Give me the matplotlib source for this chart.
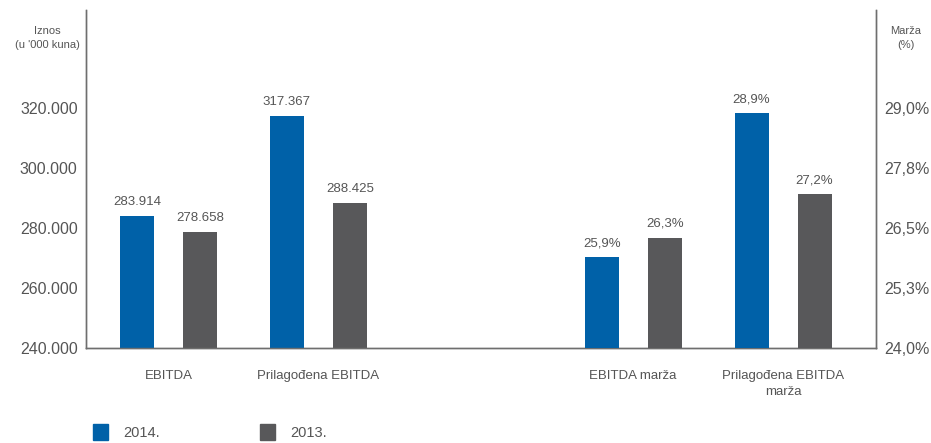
import matplotlib
matplotlib.use("Agg")
import matplotlib.pyplot as plt
from matplotlib.patches import Rectangle
import numpy as np

plt.rcParams['font.family'] = ['Liberation Sans', 'DejaVu Sans']

categories_left = ["EBITDA", "Prilagođena EBITDA"]
values_2014_left = [283914, 317367]
values_2013_left = [278658, 288425]

categories_right = ["EBITDA marža", "Prilagođena EBITDA\nmarža"]
values_2014_right = [25.9, 28.9]
values_2013_right = [26.3, 27.2]

left_ticks = [240000, 260000, 280000, 300000, 320000]
left_tick_labels = ["240.000", "260.000", "280.000", "300.000", "320.000"]
right_ticks = [24.0, 25.25, 26.5, 27.75, 29.0]
right_tick_labels = ["24,0%", "25,3%", "26,5%", "27,8%", "29,0%"]
series_names = ["2014.", "2013."]

BLUE = "#0061a8"
GRAY = "#58585a"
TXT = "#555555"
SPINE = "#6e6e6e"

fig = plt.figure(figsize=(9.31, 4.43), dpi=100)
ax = fig.add_axes([86/931, 1-348/443, (876-86)/931, (348-10)/443])
ax2 = ax.twinx()

pos_left = np.array([0.0, 1.0])
pos_right = np.array([3.1, 4.1])
off = 0.21
w = 0.227

ax.bar(pos_left - off, values_2014_left, width=w, color=BLUE, zorder=3)
ax.bar(pos_left + off, values_2013_left, width=w, color=GRAY, zorder=3)
ax2.bar(pos_right - off, values_2014_right, width=w, color=BLUE, zorder=3)
ax2.bar(pos_right + off, values_2013_right, width=w, color=GRAY, zorder=3)

def fmt_k(v):
    return f"{v:,}".replace(",", ".")

lab_kw = dict(ha='center', va='bottom', fontsize=9.5, color=TXT)
for x, v in zip(pos_left - off, values_2014_left):
    ax.text(x, v + 2600, fmt_k(v), **lab_kw)
for x, v in zip(pos_left + off, values_2013_left):
    ax.text(x, v + 2600, fmt_k(v), **lab_kw)
for x, v in zip(pos_right - off, values_2014_right):
    ax2.text(x, v + 0.16, f"{v:.1f}%".replace(".", ","), **lab_kw)
for x, v in zip(pos_right + off, values_2013_right):
    ax2.text(x, v + 0.16, f"{v:.1f}%".replace(".", ","), **lab_kw)

ax.set_xlim(-0.55, 4.72)
ax.set_ylim(240000, 352667)
ax2.set_ylim(24.0, 31.04)

ax.set_yticks(left_ticks)
ax.set_yticklabels(left_tick_labels)
ax2.set_yticks(right_ticks)
ax2.set_yticklabels(right_tick_labels)

ax.set_xticks(list(pos_left) + list(pos_right))
ax.set_xticklabels(categories_left + categories_right, va='top', linespacing=1.4)

for a in (ax, ax2):
    a.tick_params(axis='both', length=0, colors=TXT)
    a.spines['top'].set_visible(False)
    for s in ('left', 'right', 'bottom'):
        a.spines[s].set_color(SPINE)
        a.spines[s].set_linewidth(1.0)
ax.tick_params(axis='y', labelsize=11.5, pad=6)
ax2.tick_params(axis='y', labelsize=11.5, pad=6)
ax.tick_params(axis='x', labelsize=9.5, pad=16)

fig.text(47/931, 1-38/443, "Iznos\n(u '000 kuna)", ha='center', va='center', fontsize=8, color=TXT, linespacing=1.6)
fig.text(906/931, 1-38/443, "Marža\n(%)", ha='center', va='center', fontsize=8, color=TXT, linespacing=1.6)

# legend
for xs, name, col in [(93, series_names[0], BLUE), (260, series_names[1], GRAY)]:
    fig.patches.append(Rectangle((xs/931, 1-440/443), 15/931, 16/443, transform=fig.transFigure, color=col))
    fig.text((xs+30)/931, 1-433/443, name, ha='left', va='center', fontsize=10.5, color=TXT)

fig.savefig("out.png", dpi=100)
